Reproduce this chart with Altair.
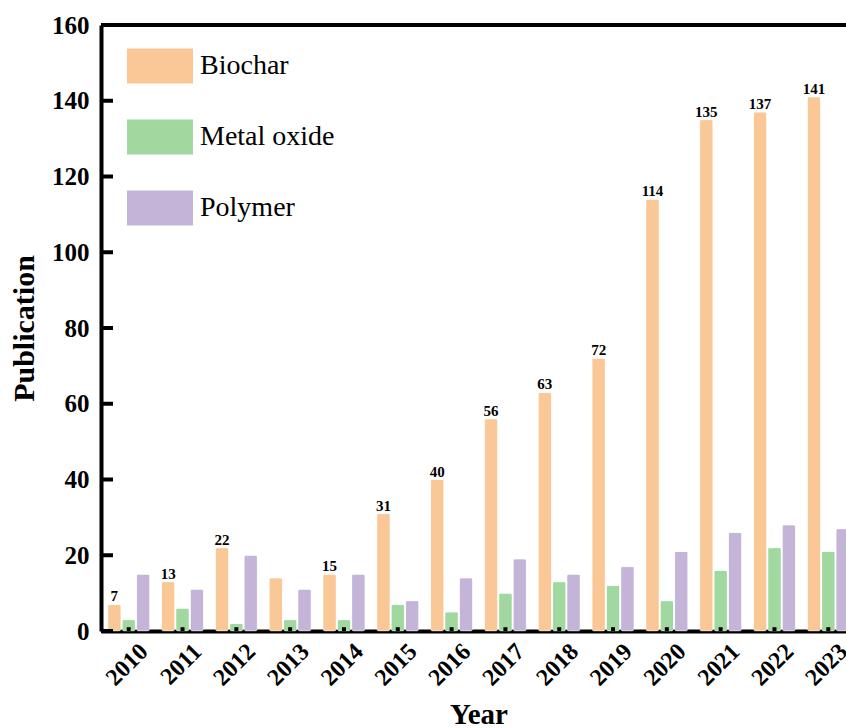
import altair as alt
import pandas as pd

years = [str(y) for y in range(2010, 2024)]
series = ["Biochar", "Metal oxide", "Polymer"]
biochar = [7, 13, 22, 14, 15, 31, 40, 56, 63, 72, 114, 135, 137, 141]
metal_oxide = [3, 6, 2, 3, 3, 7, 5, 10, 13, 12, 8, 16, 22, 21]
polymer = [15, 11, 20, 11, 15, 8, 14, 19, 15, 17, 21, 26, 28, 27]
biochar_labels = ["7", "13", "22", "", "15", "31", "40", "56", "63", "72", "114", "135", "137", "141"]
colors = ["#FAC896", "#A0D8A0", "#C4B4D8"]
y_ticks = [0, 20, 40, 60, 80, 100, 120, 140, 160]

rows = []
for i, yr in enumerate(years):
    for s, vals in zip(series, [biochar, metal_oxide, polymer]):
        rows.append({"year": yr, "series": s, "value": vals[i]})
df = pd.DataFrame(rows)
lab_df = pd.DataFrame({"year": years, "series": ["Biochar"] * len(years),
                       "value": biochar, "label": biochar_labels})
tick_df = pd.DataFrame({"t": y_ticks})
year_df = pd.DataFrame({"year": years})

FONT = "Liberation Serif"
W, H = 745, 606

xscale = alt.Scale(domain=years, range=[0, 755], paddingInner=0.22, paddingOuter=0.125)
yscale = alt.Scale(domain=[0, 160], nice=False)
offscale = alt.Scale(domain=series, paddingInner=0.08)

bars = alt.Chart(df).mark_bar(cornerRadius=2, stroke="#ffffff", strokeWidth=0.6, strokeOpacity=0.6).encode(
    x=alt.X("year:N", scale=xscale, sort=years,
            axis=alt.Axis(title="Year", labelAngle=315, labelFont=FONT, labelFontSize=24,
                          labelFontWeight="bold", labelColor="black", ticks=False,
                          domainColor="black", domainWidth=4, labelPadding=8,
                          labelOffset=7, titleFont=FONT, titleFontSize=29,
                          titleFontWeight="bold", titleColor="black", titlePadding=11)),
    xOffset=alt.XOffset("series:N", scale=offscale, sort=series),
    y=alt.Y("value:Q", scale=yscale,
            axis=alt.Axis(title="Publication", values=y_ticks, labelFont=FONT,
                          labelFontSize=25, labelFontWeight="bold", labelColor="black",
                          ticks=False, domainColor="black", domainWidth=4, labelPadding=12,
                          grid=False, titleFont=FONT, titleFontSize=30,
                          titleFontWeight="bold", titleColor="black", titlePadding=12)),
    color=alt.Color("series:N", sort=series,
                    scale=alt.Scale(domain=series, range=colors),
                    legend=alt.Legend(title=None, orient="none", legendX=26, legendY=8,
                                      symbolType="M-1,-0.53H1V0.53H-1Z", symbolSize=4356,
                                      symbolStrokeWidth=0, labelFont=FONT, labelFontSize=28,
                                      labelColor="black", rowPadding=20, labelOffset=7,
                                      padding=0, labelLimit=300)),
)

labels = alt.Chart(lab_df).mark_text(font=FONT, fontSize=15, fontWeight="bold",
                                     color="black", baseline="bottom", dy=0).encode(
    x=alt.X("year:N", scale=xscale, sort=years),
    xOffset=alt.XOffset("series:N", scale=offscale, sort=series),
    y=alt.Y("value:Q", scale=yscale),
    text="label:N",
)

yticks = alt.Chart(tick_df).mark_rule(color="black", strokeWidth=4).encode(
    y=alt.Y("t:Q", scale=yscale),
    x=alt.value(0), x2=alt.value(12),
)

xticks = alt.Chart(year_df).mark_rule(color="black", strokeWidth=4).encode(
    x=alt.X("year:N", scale=xscale, sort=years),
    y=alt.datum(0), y2=alt.datum(1),
)

topline = alt.Chart(tick_df).mark_rule(color="black", strokeWidth=4).encode(
    y=alt.datum(160),
)

chart = alt.layer(bars, labels, yticks, xticks, topline).properties(
    width=W, height=H,
    autosize=alt.AutoSizeParams(type="none"),
    padding={"left": 101, "top": 25, "right": 0, "bottom": 97},
).configure_view(stroke=None).configure(background="white")

chart.save("out.html", embed_options={"renderer": "svg", "actions": False})
